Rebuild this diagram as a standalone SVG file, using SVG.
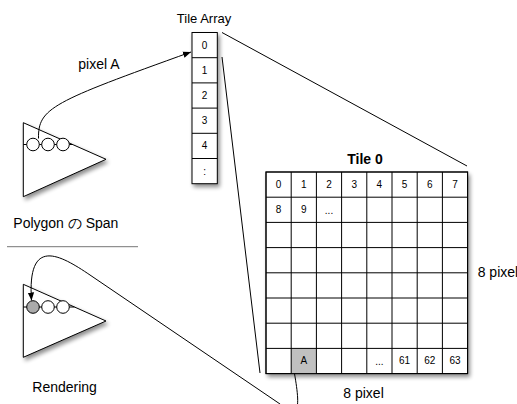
<svg xmlns="http://www.w3.org/2000/svg" width="517" height="404" viewBox="0 0 517 404">
<style>
text{font-family:"Liberation Sans",Arial,sans-serif;fill:#000}
.lbl{font-size:14px}
.cell{font-size:10px;text-anchor:middle}
.box{fill:#fff;stroke:#000;stroke-width:1}
.ln{fill:none;stroke:#000;stroke-width:1}
.circ{fill:#fff;stroke:#000;stroke-width:1}
</style>
<defs>
<filter id="sh" x="-20%" y="-20%" width="150%" height="150%">
<feGaussianBlur in="SourceAlpha" stdDeviation="2"/>
<feOffset dx="2" dy="3" result="b"/>
<feComponentTransfer><feFuncA type="linear" slope="0.45"/></feComponentTransfer>
<feMerge><feMergeNode/><feMergeNode in="SourceGraphic"/></feMerge>
</filter>
<marker id="ah" viewBox="0 0 10 10" refX="10" refY="5" markerWidth="8" markerHeight="8" markerUnits="userSpaceOnUse" orient="auto">
<path d="M0,1 L10,5 L0,9 Z" fill="#000"/>
</marker>
</defs>

<g id="polygon-span">
<path d="M23.3,122.7 L106,159.3 L23.3,196.7 Z" class="box" filter="url(#sh)"/>
<line x1="23.3" y1="144.5" x2="72" y2="144.5" class="ln"/>
<circle cx="33" cy="144.5" r="6.3" class="circ"/>
<circle cx="48" cy="144.5" r="6.3" class="circ"/>
<circle cx="63" cy="144.5" r="6.3" class="circ"/>
<text x="13.3" y="228" class="lbl">Polygon の Span</text>
</g>

<line id="separator" x1="7" y1="246.7" x2="138" y2="246.7" stroke="#777" stroke-width="1"/>

<g id="rendering">
<path d="M23.3,284.3 L106,321 L23.3,357.3 Z" class="box" filter="url(#sh)"/>
<line x1="23.3" y1="307" x2="74.4" y2="307" class="ln"/>
<circle cx="33" cy="307" r="6.3" fill="#aaa" stroke="#000" stroke-width="1"/>
<circle cx="48" cy="307" r="6.3" class="circ"/>
<circle cx="63" cy="307" r="6.3" class="circ"/>
<text x="32.3" y="391.7" class="lbl">Rendering</text>
</g>

<g id="tile-array">
<text x="204" y="22.7" style="font-size:13px;text-anchor:middle">Tile Array</text>
<rect x="192" y="32.5" width="25.3" height="151.2" class="box" filter="url(#sh)"/>
<g class="ln">
<line x1="192" y1="57.7" x2="217.3" y2="57.7"/>
<line x1="192" y1="82.9" x2="217.3" y2="82.9"/>
<line x1="192" y1="108.1" x2="217.3" y2="108.1"/>
<line x1="192" y1="133.3" x2="217.3" y2="133.3"/>
<line x1="192" y1="158.5" x2="217.3" y2="158.5"/>
</g>
<text x="204.6" y="48.6" class="cell">0</text>
<text x="204.6" y="73.8" class="cell">1</text>
<text x="204.6" y="99" class="cell">2</text>
<text x="204.6" y="124.2" class="cell">3</text>
<text x="204.6" y="149.4" class="cell">4</text>
<text x="204.6" y="174.6" class="cell">:</text>
</g>

<g id="tile0">
<text x="365" y="164.3" style="font-size:14px;font-weight:bold;text-anchor:middle">Tile 0</text>
<rect x="266" y="172" width="201.6" height="201.6" class="box" filter="url(#sh)"/>
<rect x="291.2" y="348.4" width="25.2" height="25.2" fill="#c0c0c0"/>
<g class="ln">
<line x1="291.2" y1="172" x2="291.2" y2="373.6"/>
<line x1="316.4" y1="172" x2="316.4" y2="373.6"/>
<line x1="341.6" y1="172" x2="341.6" y2="373.6"/>
<line x1="366.8" y1="172" x2="366.8" y2="373.6"/>
<line x1="392" y1="172" x2="392" y2="373.6"/>
<line x1="417.2" y1="172" x2="417.2" y2="373.6"/>
<line x1="442.4" y1="172" x2="442.4" y2="373.6"/>
<line x1="266" y1="197.2" x2="467.6" y2="197.2"/>
<line x1="266" y1="222.4" x2="467.6" y2="222.4"/>
<line x1="266" y1="247.6" x2="467.6" y2="247.6"/>
<line x1="266" y1="272.8" x2="467.6" y2="272.8"/>
<line x1="266" y1="298" x2="467.6" y2="298"/>
<line x1="266" y1="323.2" x2="467.6" y2="323.2"/>
<line x1="266" y1="348.4" x2="467.6" y2="348.4"/>
</g>
<rect x="266" y="172" width="201.6" height="201.6" fill="none" stroke="#000" stroke-width="1"/>
<text x="278.6" y="187.6" class="cell">0</text>
<text x="303.8" y="187.6" class="cell">1</text>
<text x="329" y="187.6" class="cell">2</text>
<text x="354.2" y="187.6" class="cell">3</text>
<text x="379.4" y="187.6" class="cell">4</text>
<text x="404.6" y="187.6" class="cell">5</text>
<text x="429.8" y="187.6" class="cell">6</text>
<text x="455" y="187.6" class="cell">7</text>
<text x="278.6" y="212.8" class="cell">8</text>
<text x="303.8" y="212.8" class="cell">9</text>
<text x="329" y="214" class="cell">...</text>
<text x="303.8" y="364" class="cell">A</text>
<text x="379.4" y="365" class="cell">...</text>
<text x="404.6" y="364" class="cell">61</text>
<text x="429.8" y="364" class="cell">62</text>
<text x="455" y="364" class="cell">63</text>
<text x="477.7" y="276.7" class="lbl">8 pixel</text>
<text x="343.3" y="398" class="lbl">8 pixel</text>
</g>

<g id="connectors" class="ln">
<path d="M38.5,138.5 C38,108 52,102 191,52" marker-end="url(#ah)"/>
<text x="78.3" y="68.5" class="lbl" stroke="none">pixel A</text>
<line x1="222" y1="32.5" x2="467" y2="166"/>
<line x1="222" y1="57" x2="260" y2="373"/>
<path d="M294.5,373.6 C299,400 302,425 280,404 L90,275 C60,254.7 27,236 31.5,300.5" marker-end="url(#ah)"/>
</g>
</svg>
